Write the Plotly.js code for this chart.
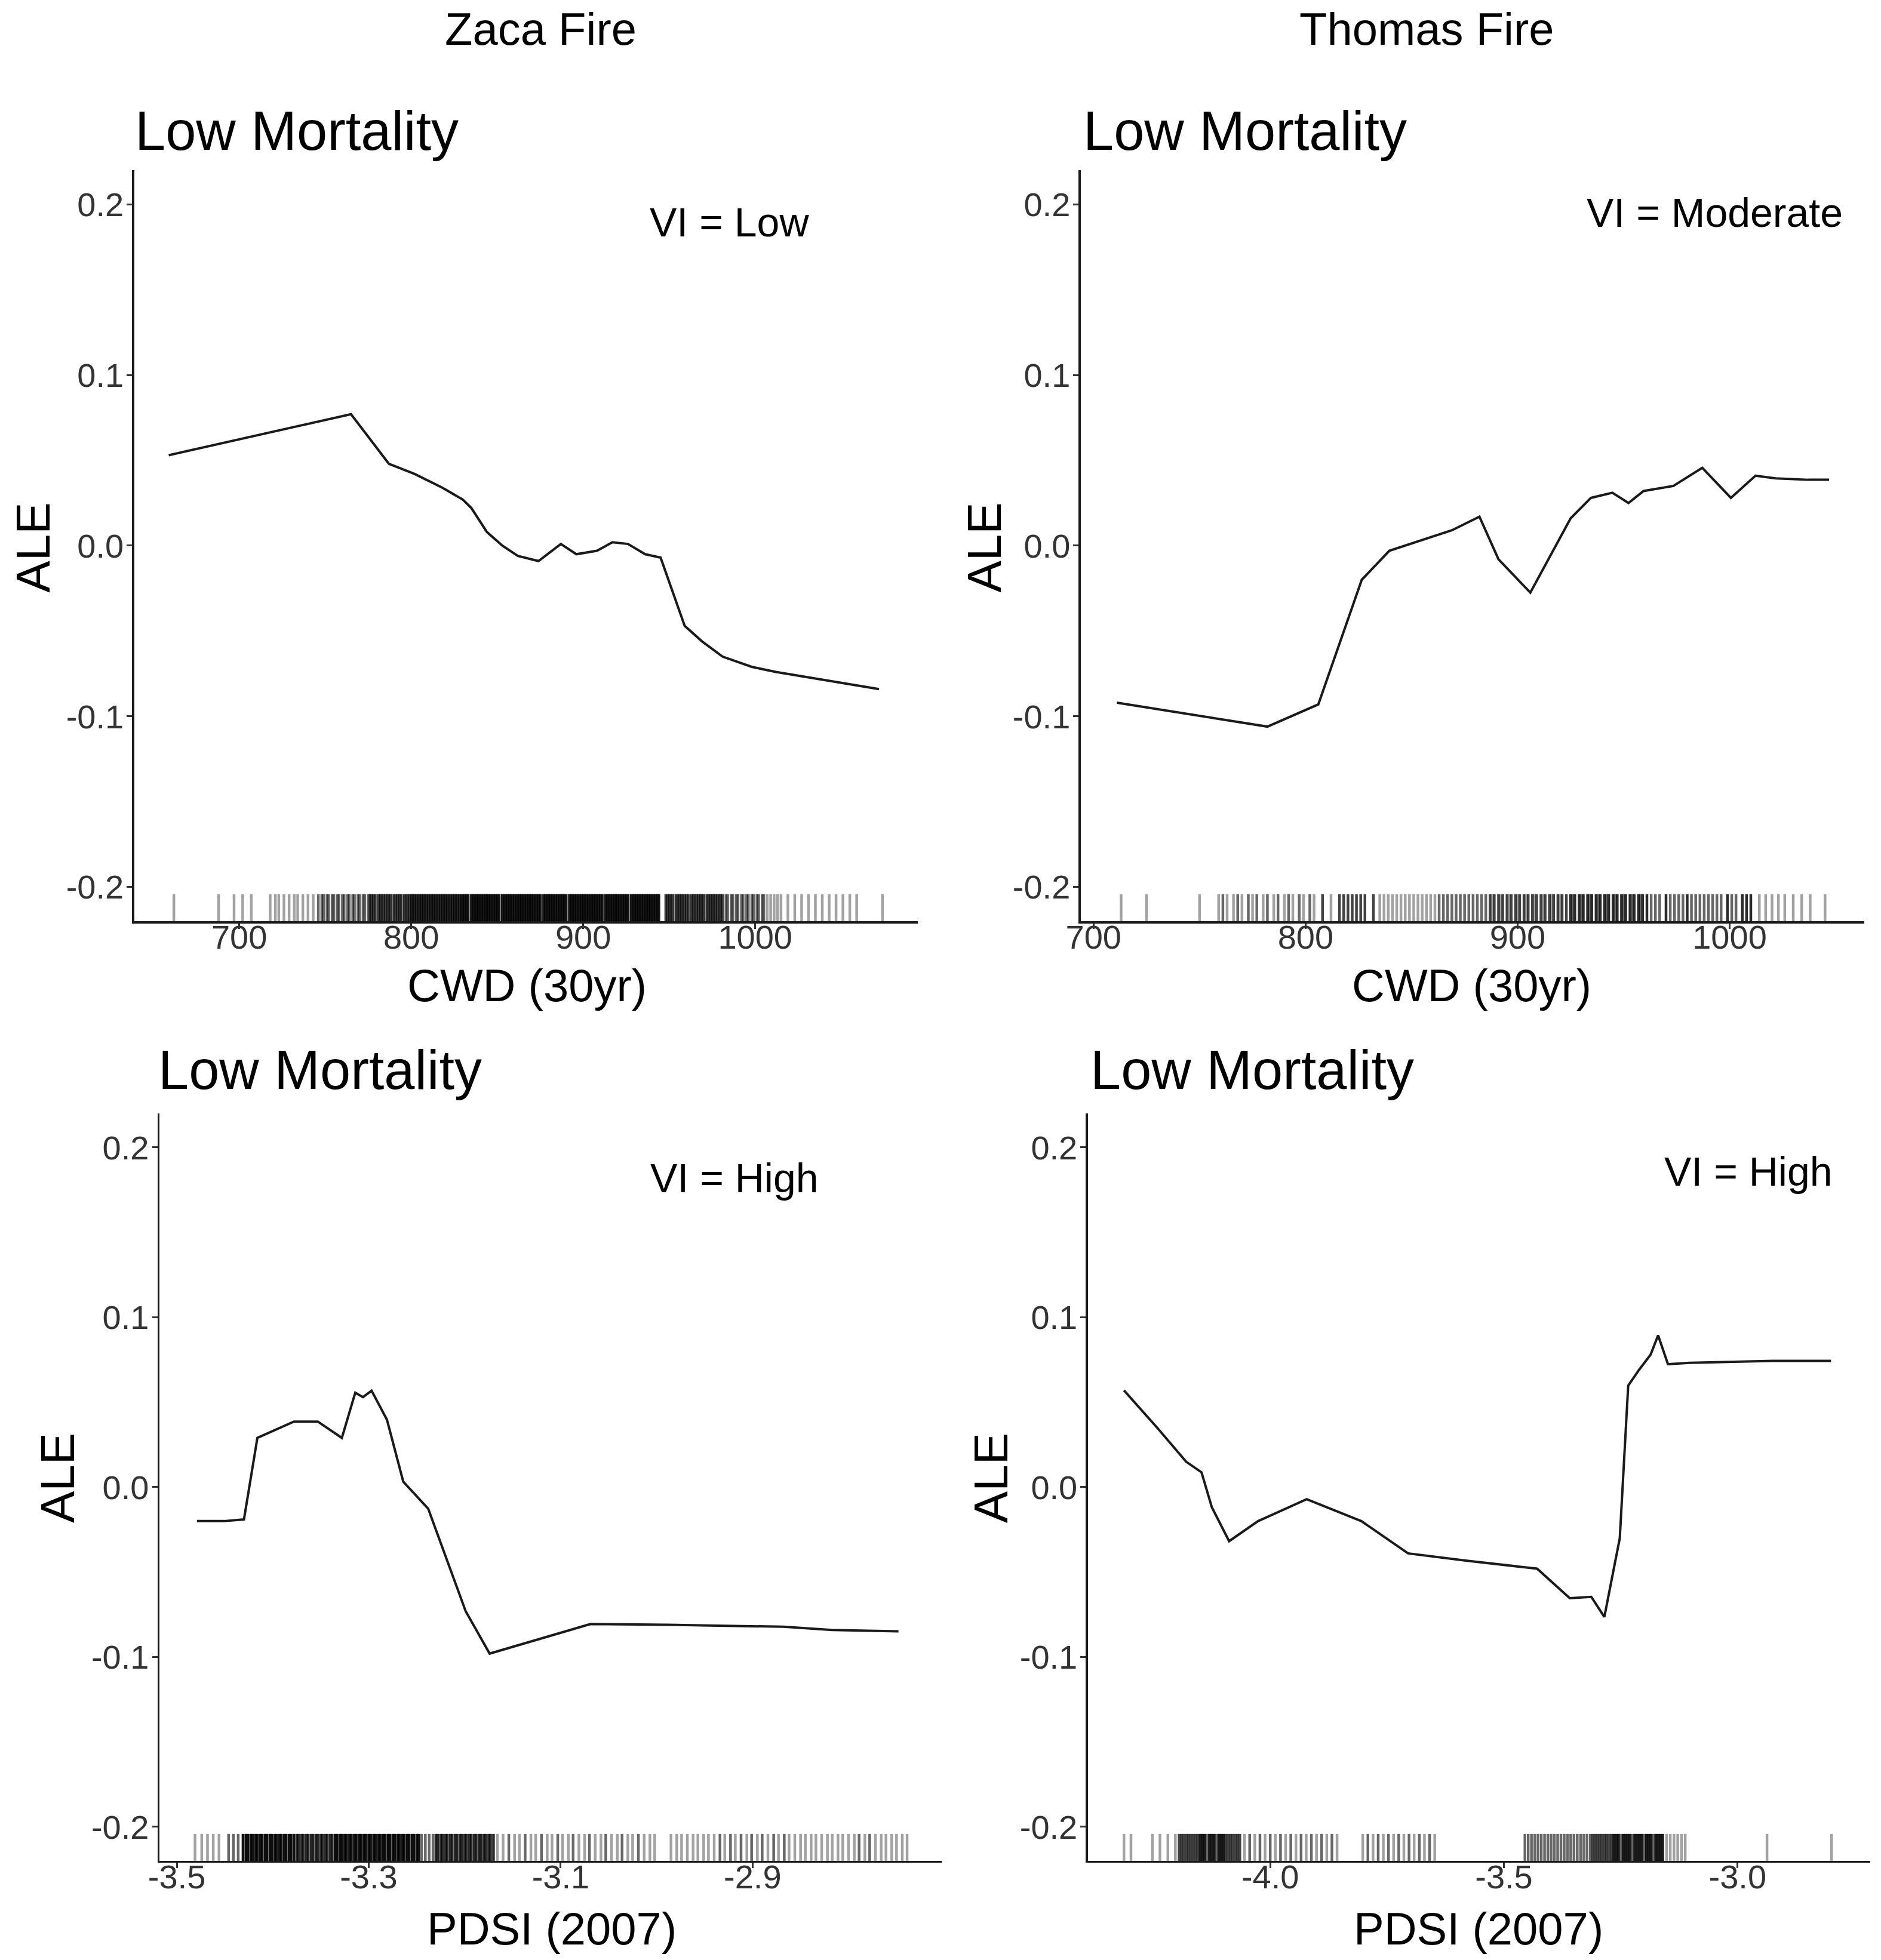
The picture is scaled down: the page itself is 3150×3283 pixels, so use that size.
<!DOCTYPE html>
<html>
<head>
<meta charset="utf-8">
<script src="https://cdn.plot.ly/plotly-3.0.1.min.js"></script>
<style>
  html, body { margin: 0; padding: 0; background: #fff; }
  #plot { width: 3150px; height: 3283px; }
</style>
</head>
<body>
<div id="plot"></div>
<script>
// ALE curves
const zacaCwdX = [659, 765, 787, 802, 818, 830, 835, 844, 853, 862, 874, 887, 896, 908, 917, 926, 936, 945, 959, 969, 981, 998, 1012, 1072];
const zacaCwdY = [0.053, 0.077, 0.048, 0.042, 0.034, 0.027, 0.022, 0.008, 0.0, -0.006, -0.009, 0.001, -0.005, -0.003, 0.002, 0.001, -0.005, -0.007, -0.047, -0.056, -0.065, -0.071, -0.074, -0.084];

const thomasCwdX = [711, 782, 806, 826.5, 839.5, 869, 882, 891, 906, 925, 934.6, 944.7, 952.3, 959.4, 973.5, 987.1, 1000.6, 1012.2, 1021.7, 1037, 1046.9];
const thomasCwdY = [-0.092, -0.106, -0.093, -0.020, -0.003, 0.009, 0.017, -0.008, -0.0275, 0.016, 0.028, 0.031, 0.025, 0.032, 0.035, 0.0456, 0.028, 0.041, 0.0394, 0.0386, 0.0386];

const zacaPdsiX = [-3.479, -3.451, -3.430, -3.416, -3.378, -3.353, -3.328, -3.314, -3.306, -3.297, -3.281, -3.264, -3.238, -3.199, -3.174, -3.069, -2.988, -2.868, -2.817, -2.748];
const zacaPdsiY = [-0.020, -0.020, -0.019, 0.029, 0.0386, 0.0386, 0.029, 0.0556, 0.053, 0.0568, 0.0397, 0.0032, -0.0127, -0.073, -0.098, -0.0806, -0.081, -0.0822, -0.0841, -0.0849];

const thomasPdsiX = [-4.313, -4.241, -4.180, -4.147, -4.125, -4.088, -4.026, -3.922, -3.805, -3.705, -3.579, -3.429, -3.359, -3.313, -3.285, -3.252, -3.234, -3.211, -3.186, -3.170, -3.149, -3.103, -2.926, -2.800];
const thomasPdsiY = [0.057, 0.0347, 0.015, 0.0087, -0.0118, -0.0318, -0.020, -0.0071, -0.020, -0.039, -0.0433, -0.048, -0.0654, -0.0646, -0.0764, -0.030, 0.0598, 0.069, 0.078, 0.0894, 0.0724, 0.0732, 0.0743, 0.0743];

// rug marks, grouped by how many observations sit on each position (index 0 = 1 obs, ...)
const zacaCwdRug = [
  [662, 688, 697, 702, 707, 718, 721, 723, 726, 729, 732, 734, 737, 740, 743, 1007, 1009, 1011, 1013, 1015,
   1019, 1023, 1027, 1031, 1035, 1039, 1043, 1047, 1051, 1055, 1059, 1074,
   780, 789, 795, 953, 962, 971, 834, 852, 876, 891, 912, 927],
  [746, 748, 749, 751, 752, 754, 755, 757, 758, 760, 761, 763, 764, 766, 767, 769, 770, 772, 773, 775,
   983, 984, 986, 987, 989, 990, 992, 993, 995, 996, 998, 999, 1001, 1002, 1004, 1005],
  [776, 777, 778, 779, 781, 782, 783, 784, 785, 786, 787, 788, 790, 791, 792, 793, 794,
   796, 797, 798, 799,
   948, 949, 950, 951, 952, 954, 955, 956, 957, 958, 959, 960, 961, 963, 964, 965, 966, 967,
   968, 969, 970, 972, 973, 974, 975, 976, 977, 978, 979, 980, 981],
  [800, 801, 802, 803, 804, 805, 806, 807, 808, 809, 810, 811, 812, 813, 814, 815, 816, 817, 818, 819,
   820, 821, 822, 823, 824, 825, 826, 827, 828],
  [829, 830, 831, 832, 833, 835, 836, 837, 838, 839, 840, 841, 842, 843, 844, 845, 846, 847, 848,
   849, 850, 851, 853, 854, 855, 856, 857, 858, 859, 860, 861, 862, 863, 864, 865, 866, 867, 868,
   869, 870, 871, 872, 873, 874, 875, 877, 878, 879, 880, 881, 882, 883, 884, 885, 886, 887, 888,
   889, 890, 892, 893, 894, 895, 896, 897, 898, 899, 900, 901, 902, 903, 904, 905, 906, 907, 908,
   909, 910, 911, 913, 914, 915, 916, 917, 918, 919, 920, 921, 922, 923, 924, 925, 926, 928,
   929, 930, 931, 932, 933, 934, 935, 936, 937, 938, 939, 940, 941, 942, 943, 944]
];

const thomasCwdRug = [
  [713, 725, 750, 759, 763, 766, 770, 775, 780, 785, 790, 794, 799, 804, 812,
   835, 837, 839, 841, 843, 845, 847, 849, 851, 853, 855, 857, 859, 861,
   888, 892, 896, 900, 904, 908, 912, 916, 920,
   1014, 1017, 1020, 1023, 1026, 1030, 1034, 1038, 1045],
  [761, 768, 773, 777, 782, 787, 792, 797, 802, 863, 865, 867, 869, 871, 873, 875, 877, 879, 881, 883, 885,
   926, 930, 934, 938, 942, 946, 950, 954, 958,
   963, 965, 967, 972, 974, 976, 978, 982, 984, 986, 988, 990, 992, 994, 996, 1001, 1003],
  [808, 816, 818, 820, 822, 824, 826, 828, 832, 887, 889, 891, 893, 895, 897, 899, 901, 903, 905, 907,
   909, 911, 913, 915, 917, 919, 921, 923],
  [925, 927, 929, 931, 933, 935, 937, 939, 941, 943, 945, 947, 949, 951, 953, 955, 957, 959, 961,
   970, 980, 999, 1006, 1008, 1010]
];

const zacaPdsiRug = [
  [-3.481, -3.474, -3.468, -3.462, -3.456,
   -3.166, -3.160, -3.148, -3.143, -3.131, -3.126, -3.114, -3.109, -3.098, -3.092, -3.081, -3.075, -3.064,
   -3.058, -3.047, -3.041, -3.030, -3.025, -3.013, -3.007, -3.002,
   -2.985, -2.979, -2.974, -2.968, -2.962, -2.957, -2.951, -2.946, -2.940, -2.929, -2.918, -2.906, -2.895,
   -2.884, -2.873, -2.862, -2.856, -2.850, -2.845, -2.839, -2.834, -2.828, -2.822, -2.817, -2.811, -2.806,
   -2.800, -2.794, -2.783, -2.772, -2.766, -2.761, -2.755, -2.750, -2.744, -2.739],
  [-3.446, -3.441, -3.436, -3.245, -3.241, -3.237, -3.233,
   -3.154, -3.137, -3.120, -3.103, -3.087, -3.070, -3.053, -3.036, -3.019,
   -2.934, -2.923, -2.912, -2.901, -2.890, -2.878, -2.867, -2.789, -2.778],
  [],
  [-3.375, -3.373, -3.370, -3.368, -3.365, -3.363, -3.360, -3.358, -3.355, -3.353, -3.350, -3.348, -3.345,
   -3.343, -3.340, -3.338,
   -3.230, -3.228, -3.225, -3.223, -3.220, -3.218, -3.215, -3.213, -3.210, -3.208, -3.205, -3.203, -3.200,
   -3.198, -3.195, -3.193, -3.190, -3.188, -3.185, -3.183, -3.180, -3.178, -3.175, -3.173, -3.170],
  [],
  [-3.431, -3.428, -3.426, -3.423, -3.421, -3.418, -3.416, -3.413, -3.411, -3.408, -3.406, -3.403, -3.401,
   -3.398, -3.396, -3.393, -3.391, -3.388, -3.386, -3.383, -3.381, -3.378,
   -3.335, -3.333, -3.330, -3.328, -3.325, -3.323, -3.320, -3.318, -3.315, -3.313, -3.310, -3.308, -3.305,
   -3.303, -3.300, -3.298, -3.295, -3.293, -3.290, -3.288, -3.285, -3.283, -3.280, -3.278, -3.275, -3.273,
   -3.270, -3.268, -3.265, -3.263, -3.260, -3.258, -3.255, -3.253, -3.250, -3.248]
];

const thomasPdsiRug = [
  [-4.313, -4.298, -4.252, -4.236, -4.219, -4.203,
   -4.055, -4.033, -4.011, -3.989, -3.967, -3.945, -3.923, -3.901, -3.879, -3.857,
   -3.802, -3.780, -3.758, -3.736, -3.714, -3.692, -3.670, -3.648,
   -3.152, -3.144, -3.136, -3.128, -3.120, -3.112, -2.937, -2.799],
  [-4.044, -4.022, -4.000, -3.978, -3.956, -3.934, -3.912, -3.890, -3.868,
   -3.791, -3.769, -3.747, -3.725, -3.703, -3.681, -3.659,
   -3.455, -3.448, -3.441, -3.434, -3.427, -3.420, -3.413, -3.406, -3.399, -3.392, -3.385, -3.378, -3.371,
   -3.364, -3.357, -3.350, -3.343, -3.336, -3.329, -3.322, -3.315,
   -4.135, -4.115, -3.250, -3.225, -3.200, -3.180],
  [-4.195, -4.190, -4.185, -4.180, -4.175, -4.170, -4.165, -4.160, -4.155,
   -4.095, -4.090, -4.085, -4.080, -4.075, -4.070, -4.065,
   -3.310, -3.305, -3.300, -3.295, -3.290, -3.285, -3.280, -3.275, -3.270],
  [],
  [-4.150, -4.145, -4.140, -4.130, -4.125, -4.120, -4.110, -4.105, -4.100,
   -3.265, -3.260, -3.255, -3.245, -3.240, -3.235, -3.230, -3.220, -3.215, -3.210, -3.205,
   -3.195, -3.190, -3.185, -3.175, -3.170, -3.165, -3.160]
];

const cwdTicks = [700, 800, 900, 1000];
const zacaPdsiTicks = [-3.5, -3.3, -3.1, -2.9];
const thomasPdsiTicks = [-4.0, -3.5, -3.0];
const aleTicks = [-0.2, -0.1, 0.0, 0.1, 0.2];

const colTitles = ["Zaca Fire", "Thomas Fire"];
const panelTitle = "Low Mortality";
const viLabels = ["VI = Low", "VI = Moderate", "VI = High", "VI = High"];
const xTitles = ["CWD (30yr)", "CWD (30yr)", "PDSI (2007)", "PDSI (2007)"];
const yTitle = "ALE";

const W = 3150, H = 3283;
const yRange = [-0.22, 0.22];
const rowDomains = [[0.530, 0.9132], [0.0506, 0.4319]];
const rugAlpha = 0.36;

const panels = [
  {x: zacaCwdX, y: zacaCwdY, rug: zacaCwdRug, ticks: cwdTicks, fmt: v => String(v),
   xdom: [0.0714, 0.4879], xr: [639, 1094.5], row: 0, vi: [985, 0.1895]},
  {x: thomasCwdX, y: thomasCwdY, rug: thomasCwdRug, ticks: cwdTicks, fmt: v => String(v),
   xdom: [0.5746, 0.9911], xr: [694, 1063.5], row: 0, vi: [993, 0.195]},
  {x: zacaPdsiX, y: zacaPdsiY, rug: zacaPdsiRug, ticks: zacaPdsiTicks, fmt: v => v.toFixed(1),
   xdom: [0.0848, 0.5006], xr: [-3.518, -2.703], row: 1, vi: [-2.919, 0.182]},
  {x: thomasPdsiX, y: thomasPdsiY, rug: thomasPdsiRug, ticks: thomasPdsiTicks, fmt: v => v.toFixed(1),
   xdom: [0.5784, 0.9943], xr: [-4.39, -2.716], row: 1, vi: [-2.977, 0.186]}
];

const fontFam = "Liberation Sans, Arial, sans-serif";
const tickFont = {family: fontFam, size: 56, color: "#333"};

const traces = [];
const layout = {
  width: W, height: H,
  margin: {l: 0, r: 0, t: 0, b: 0},
  paper_bgcolor: "#fff", plot_bgcolor: "#fff",
  font: {family: fontFam, color: "#000"},
  showlegend: false,
  annotations: []
};

panels.forEach((p, i) => {
  const n = i + 1;
  const xa = "x" + (n === 1 ? "" : n), ya = "y" + (n === 1 ? "" : n);
  const ydom = rowDomains[p.row];
  const rugY = yRange[0] + 0.015 * (yRange[1] - yRange[0]);
  const rugLen = 0.03 * (ydom[1] - ydom[0]) * H;

  p.rug.forEach((xs, k) => {
    if (!xs.length) return;
    traces.push({
      type: "scatter", mode: "markers", x: xs, y: xs.map(() => rugY),
      xaxis: xa, yaxis: ya, hoverinfo: "skip",
      marker: {symbol: "line-ns", size: rugLen, color: "#000",
               opacity: 1 - Math.pow(1 - rugAlpha, k + 1),
               line: {width: 4.5, color: "#000"}}
    });
  });

  traces.push({
    type: "scatter", mode: "lines", x: p.x, y: p.y, xaxis: xa, yaxis: ya,
    line: {color: "#1a1a1a", width: 4}
  });

  const axisCommon = {
    showline: true, linecolor: "#1a1a1a", linewidth: 3.5,
    ticks: "outside", ticklen: 9, tickwidth: 3, tickcolor: "#333",
    showgrid: false, zeroline: false, tickfont: tickFont, fixedrange: true
  };
  layout["xaxis" + (n === 1 ? "" : n)] = Object.assign({}, axisCommon, {
    domain: p.xdom, range: p.xr, anchor: ya, ticklabelstandoff: -34,
    tickmode: "array", tickvals: p.ticks, ticktext: p.ticks.map(p.fmt)
  });
  layout["yaxis" + (n === 1 ? "" : n)] = Object.assign({}, axisCommon, {
    domain: ydom, range: yRange, anchor: xa, ticklabelstandoff: -6,
    tickmode: "array", tickvals: aleTicks, ticktext: aleTicks.map(v => v.toFixed(1))
  });

  // panel title, left aligned on the panel
  const titleX = [0.0711, 0.5752, 0.0835, 0.5791][i];
  const titleY = [0.9333, 0.4542][p.row];
  layout.annotations.push({
    text: panelTitle, xref: "paper", yref: "paper", x: titleX, y: titleY,
    xanchor: "left", yanchor: "middle", showarrow: false, font: {size: 92, color: "#000"}
  });
  // VI label inside the panel
  layout.annotations.push({
    text: viLabels[i], xref: xa, yref: ya, x: p.vi[0], y: p.vi[1],
    xanchor: "center", yanchor: "middle", showarrow: false, font: {size: 68, color: "#000"}
  });
  // axis titles
  layout.annotations.push({
    text: yTitle, xref: "paper", yref: "paper",
    x: [0.0178, 0.5235, 0.0305, 0.5267][i], y: [0.7205, 0.2458][p.row],
    xanchor: "center", yanchor: "middle", textangle: -90, showarrow: false,
    font: {size: 80, color: "#000"}
  });
  layout.annotations.push({
    text: xTitles[i], xref: "paper", yref: "paper",
    x: [0.2800, 0.7825, 0.2933, 0.7860][i], y: [0.4974, 0.0161][p.row],
    xanchor: "center", yanchor: "middle", showarrow: false,
    font: {size: 76, color: "#000"}
  });
});

// column headers
colTitles.forEach((t, j) => {
  layout.annotations.push({
    text: t, xref: "paper", yref: "paper", x: [0.2876, 0.7587][j], y: 0.9851,
    xanchor: "center", yanchor: "middle", showarrow: false, font: {size: 76, color: "#000"}
  });
});

Plotly.newPlot("plot", traces, layout, {displayModeBar: false, staticPlot: true});
</script>
</body>
</html>
